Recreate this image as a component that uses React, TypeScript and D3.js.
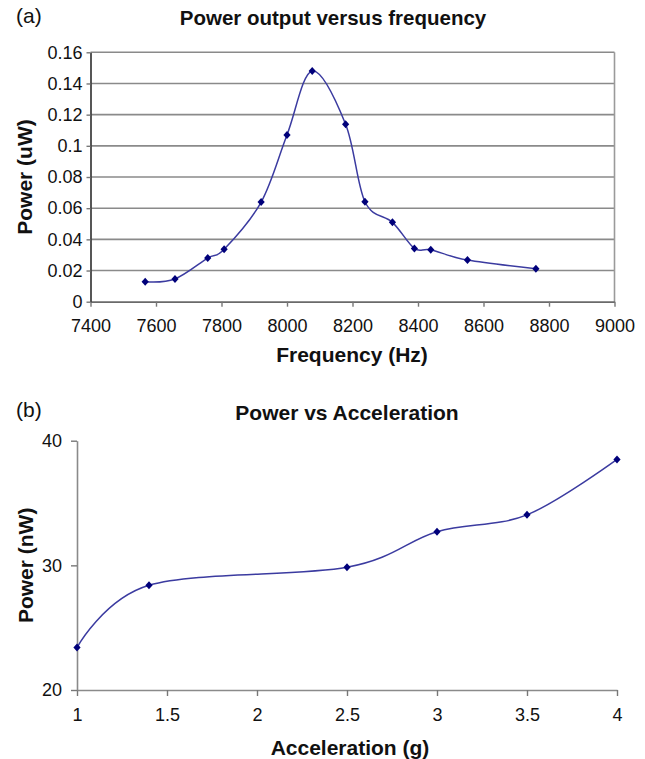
import React, { useRef, useEffect } from "react";
import * as d3 from "d3";

// panel (a): power output versus frequency
const freqHz = [7567, 7658, 7758, 7808, 7921, 8000, 8077, 8179, 8238, 8322, 8389, 8439, 8551, 8760];
const powerUW = [0.0128, 0.0146, 0.028, 0.0336, 0.0639, 0.107, 0.148, 0.1139, 0.0641, 0.0509, 0.0342, 0.0333, 0.0267, 0.0212];
const freqTicks = [7400, 7600, 7800, 8000, 8200, 8400, 8600, 8800, 9000];
const powerUWTicks = [0, 0.02, 0.04, 0.06, 0.08, 0.1, 0.12, 0.14, 0.16];

// panel (b): power vs acceleration
const accelG = [1, 1.4, 2.5, 3, 3.5, 4];
const powerNW = [23.4, 28.4, 29.85, 32.7, 34.05, 38.5];
const accelTicks = [1, 1.5, 2, 2.5, 3, 3.5, 4];
const powerNWTicks = [20, 30, 40];

const FONT = "'Liberation Sans', Arial, Helvetica, sans-serif";
const LINE = "#3b3ba0";
const MARK = "#00007a";
const diamond = "M0,-4L3.6,0L0,4L-3.6,0Z";

const App = () => {
  const svgRef = useRef<SVGSVGElement>(null);

  useEffect(() => {
    const svg = d3.select(svgRef.current);
    svg.selectAll("*").remove();
    const fmt = (d: any) => String(+(+d).toFixed(2));

    // ---------- (a) ----------
    const xa = d3.scaleLinear().domain([7400, 9000]).range([90.5, 614.5]);
    const ya = d3.scaleLinear().domain([0, 0.16]).range([301.7, 52.3]);
    const ga = svg.append("g");

    ga.append("g")
      .selectAll("line")
      .data(powerUWTicks.filter(d => d > 0))
      .enter()
      .append("line")
      .attr("x1", xa(7400)).attr("x2", xa(9000))
      .attr("y1", d => ya(d)).attr("y2", d => ya(d))
      .attr("stroke", "#8a8a8a").attr("stroke-width", 1.6);

    ga.append("line")
      .attr("x1", xa(9000)).attr("x2", xa(9000))
      .attr("y1", ya(0.16)).attr("y2", ya(0))
      .attr("stroke", "#9a9a9a").attr("stroke-width", 1.6);

    const axXa = ga.append("g")
      .attr("transform", `translate(0,${ya(0)})`)
      .call(d3.axisBottom(xa).tickValues(freqTicks).tickFormat(d => String(d)).tickSize(5).tickPadding(13).tickSizeOuter(0));
    const axYa = ga.append("g")
      .attr("transform", `translate(${xa(7400)},0)`)
      .call(d3.axisLeft(ya).tickValues(powerUWTicks).tickFormat(fmt).tickSize(4).tickPadding(4).tickSizeOuter(0));
    axXa.select(".domain").attr("stroke", "#6a6a6a").attr("stroke-width", 1.8);
    axYa.select(".domain").attr("stroke", "#444").attr("stroke-width", 1.8);

    const lineA = d3.line<number>()
      .x((d, i) => xa(freqHz[i]))
      .y(d => ya(d))
      .curve(d3.curveCardinal.tension(0));
    ga.append("path")
      .attr("d", lineA(powerUW))
      .attr("fill", "none").attr("stroke", LINE).attr("stroke-width", 1.5);
    ga.append("g")
      .selectAll("path")
      .data(powerUW)
      .enter()
      .append("path")
      .attr("d", diamond)
      .attr("transform", (d, i) => `translate(${xa(freqHz[i])},${ya(d)})`)
      .attr("fill", MARK);

    ga.append("text").attr("x", 16).attr("y", 23).text("(a)")
      .attr("font-size", 21);
    ga.append("text").attr("x", 333).attr("y", 25).attr("text-anchor", "middle")
      .attr("font-size", 20.5).attr("font-weight", "bold").text("Power output versus frequency");
    ga.append("text").attr("x", 352).attr("y", 362).attr("text-anchor", "middle")
      .attr("font-size", 21).attr("font-weight", "bold").text("Frequency (Hz)");
    ga.append("text").attr("transform", `translate(32,${(ya(0) + ya(0.16)) / 2}) rotate(-90)`)
      .attr("text-anchor", "middle")
      .attr("font-size", 21).attr("font-weight", "bold").text("Power (uW)");

    // ---------- (b) ----------
    const xb = d3.scaleLinear().domain([1, 4]).range([77, 617]);
    const yb = d3.scaleLinear().domain([20, 40]).range([690, 440.7]);
    const gb = svg.append("g");

    const axXb = gb.append("g")
      .attr("transform", `translate(0,${yb(20)})`)
      .call(d3.axisBottom(xb).tickValues(accelTicks).tickFormat(d => String(d)).tickSize(6).tickPadding(12).tickSizeOuter(0));
    const axYb = gb.append("g")
      .attr("transform", `translate(${xb(1)},0)`)
      .call(d3.axisLeft(yb).tickValues(powerNWTicks).tickFormat(d => String(d)).tickSize(6).tickPadding(9).tickSizeOuter(0));
    axXb.select(".domain").attr("stroke", "#8a8a8a").attr("stroke-width", 1.6);
    axYb.select(".domain").attr("stroke", "#8a8a8a").attr("stroke-width", 1.6);

    const lineB = d3.line<number>()
      .x((d, i) => xb(accelG[i]))
      .y(d => yb(d))
      .curve(d3.curveCardinal.tension(0));
    gb.append("path")
      .attr("d", lineB(powerNW))
      .attr("fill", "none").attr("stroke", LINE).attr("stroke-width", 1.5);
    gb.append("g")
      .selectAll("path")
      .data(powerNW)
      .enter()
      .append("path")
      .attr("d", diamond)
      .attr("transform", (d, i) => `translate(${xb(accelG[i])},${yb(d)})`)
      .attr("fill", MARK);

    gb.append("text").attr("x", 16).attr("y", 417).text("(b)")
      .attr("font-size", 21);
    gb.append("text").attr("x", 347).attr("y", 420).attr("text-anchor", "middle")
      .attr("font-size", 21).attr("font-weight", "bold").text("Power vs Acceleration");
    gb.append("text").attr("x", 350).attr("y", 755).attr("text-anchor", "middle")
      .attr("font-size", 21).attr("font-weight", "bold").text("Acceleration (g)");
    gb.append("text").attr("transform", `translate(33,${(yb(20) + yb(40)) / 2}) rotate(-90)`)
      .attr("text-anchor", "middle")
      .attr("font-size", 21).attr("font-weight", "bold").text("Power (nW)");

    // shared tick styling
    svg.selectAll(".tick line").attr("stroke", "#777").attr("stroke-width", 1.4);
    svg.selectAll(".tick text").attr("font-size", 18).attr("fill", "#111").attr("font-family", FONT);
    svg.selectAll("text").attr("font-family", FONT).attr("fill", "#111");
  }, []);

  return (
    <div>
      <svg ref={svgRef} width={645} height={759}
        style={{ position: "absolute", left: 0, top: 0, background: "#fff" }}>
      </svg>
    </div>
  );
};

export default App;
